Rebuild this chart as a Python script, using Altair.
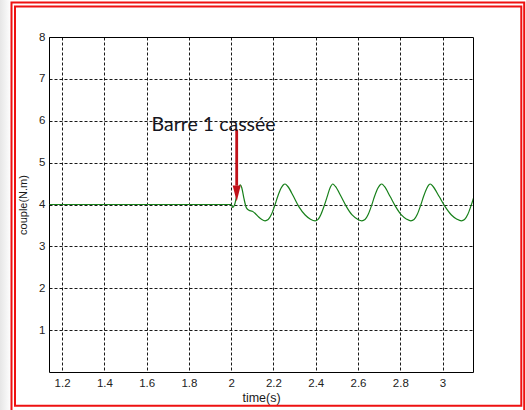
import altair as alt
import pandas as pd

# Torque response: steady state, then oscillation after the rotor bar breaks at t = 2 s
time_s = [1.14, 2.000, 2.008, 2.015, 2.030, 2.043, 2.050, 2.060, 2.072, 2.085, 2.100,
          2.115, 2.130, 2.145, 2.160,
          2.175, 2.190, 2.205, 2.220, 2.235, 2.245, 2.255,
          2.268, 2.295, 2.320, 2.350, 2.375, 2.397,
          2.410, 2.425, 2.440, 2.455, 2.467, 2.481,
          2.493, 2.520, 2.545, 2.572, 2.598, 2.618,
          2.633, 2.648, 2.663, 2.678, 2.693, 2.703, 2.713,
          2.725, 2.752, 2.778, 2.805, 2.830, 2.850,
          2.865, 2.880, 2.895, 2.910, 2.925, 2.934, 2.942,
          2.955, 2.984, 3.012, 3.042, 3.068, 3.089,
          3.104, 3.119, 3.134, 3.149, 3.162]
couple = [4.00, 4.00, 3.93, 3.98, 4.30, 4.47, 4.40, 4.15, 3.92, 3.86, 3.84,
          3.78, 3.70, 3.64, 3.61,
          3.64, 3.76, 3.96, 4.19, 4.38, 4.46, 4.49,
          4.43, 4.19, 3.95, 3.75, 3.65, 3.61,
          3.64, 3.77, 3.97, 4.20, 4.39, 4.49,
          4.43, 4.19, 3.95, 3.75, 3.65, 3.61,
          3.64, 3.76, 3.96, 4.19, 4.38, 4.46, 4.49,
          4.43, 4.19, 3.95, 3.75, 3.65, 3.61,
          3.64, 3.76, 3.96, 4.19, 4.38, 4.46, 4.49,
          4.43, 4.19, 3.95, 3.75, 3.65, 3.61,
          3.64, 3.76, 3.96, 4.19, 4.38]

x_ticks = [1.2, 1.4, 1.6, 1.8, 2.0, 2.2, 2.4, 2.6, 2.8, 3.0]
y_ticks = [1, 2, 3, 4, 5, 6, 7, 8]

# Annotation: arrow pointing at the breaking instant
note_text = "Barre 1 cassée"
note_t, note_v = 1.6235, 5.76
arrow_t = 2.026
arrow_top, arrow_base, arrow_tip = 5.79, 4.45, 4.07

X_DOMAIN = [1.138, 3.144]
Y_DOMAIN = [0, 8]

df = pd.DataFrame({"t": time_s, "c": couple})

xs = alt.Scale(domain=X_DOMAIN, nice=False, zero=False)
ys = alt.Scale(domain=Y_DOMAIN, nice=False)

x_axis = alt.Axis(values=x_ticks, format="~g", title="time(s)", grid=True,
                  gridDash=[3, 2], gridColor="#000000", gridOpacity=0.9,
                  tickSize=0, domain=False, labelPadding=5, labelFontSize=11.5,
                  labelFont="Liberation Sans", labelColor="#222222",
                  titleFont="Liberation Sans", titleFontSize=12.5,
                  titleFontWeight="normal", titleColor="#1a1a1a", titlePadding=3)
y_axis = alt.Axis(values=y_ticks, title="couple(N.m)", grid=True,
                  gridDash=[3, 2], gridColor="#000000", gridOpacity=0.9,
                  tickSize=0, domain=False, labelPadding=4, labelFontSize=11.5,
                  labelFont="Liberation Sans", labelColor="#222222",
                  titleFont="Liberation Sans", titleFontSize=11,
                  titleFontWeight="normal", titleColor="#1a1a1a", titlePadding=10)

one = alt.Data(values=[{}])

shadow = alt.Chart(one).mark_rect(
    fill=alt.Gradient(gradient="linear", x1=0, x2=1, y1=0, y2=0,
                      stops=[alt.GradientStop(color="#e6e6e6", offset=0),
                             alt.GradientStop(color="#ffffff", offset=1)])
).encode(x=alt.value(-49), x2=alt.value(-38), y=alt.value(-37), y2=alt.value(373))

outer_frame = alt.Chart(one).mark_rect(
    fill=None, stroke="#ee1111", strokeWidth=2
).encode(x=alt.value(-37.5), x2=alt.value(475.2), y=alt.value(-34.5), y2=alt.value(376))

inner_frame = alt.Chart(one).mark_rect(
    fill=None, stroke="#ee1111", strokeWidth=2
).encode(x=alt.value(-34), x2=alt.value(472.3), y=alt.value(-30.5), y2=alt.value(368.8))

curve = alt.Chart(df).mark_line(
    color="#17801a", strokeWidth=1.2, interpolate="monotone", clip=True
).encode(
    x=alt.X("t:Q", scale=xs, axis=x_axis),
    y=alt.Y("c:Q", scale=ys, axis=y_axis),
)

arrow_df = pd.DataFrame({"t": [arrow_t], "top": [arrow_top],
                         "base": [arrow_base], "tip": [arrow_tip]})

shaft = alt.Chart(arrow_df).mark_rule(color="#c0121a", strokeWidth=2.8).encode(
    x=alt.X("t:Q", scale=xs), y=alt.Y("top:Q", scale=ys), y2="base:Q")

head = alt.Chart(arrow_df).mark_point(
    shape="M-1,-4L1,-4L0,0Z", size=64, filled=True, opacity=1,
    color="#c0121a", strokeWidth=0
).encode(x=alt.X("t:Q", scale=xs), y=alt.Y("tip:Q", scale=ys))

note_df = pd.DataFrame({"t": [note_t], "c": [note_v], "label": [note_text]})
note = alt.Chart(note_df).mark_text(
    align="left", baseline="alphabetic", font="Lato", fontSize=19.5, color="#151520"
).encode(x=alt.X("t:Q", scale=xs), y=alt.Y("c:Q", scale=ys), text="label:N")

chart = alt.layer(shadow, outer_frame, inner_frame, curve, shaft, head, note).properties(
    width=424, height=335,
    padding={"left": 49, "top": 37, "right": 53, "bottom": 38},
    autosize="none", background="#ffffff",
).configure_view(stroke="#000000", strokeWidth=1)

chart.save("out.html", embed_options={"renderer": "svg", "actions": False})
